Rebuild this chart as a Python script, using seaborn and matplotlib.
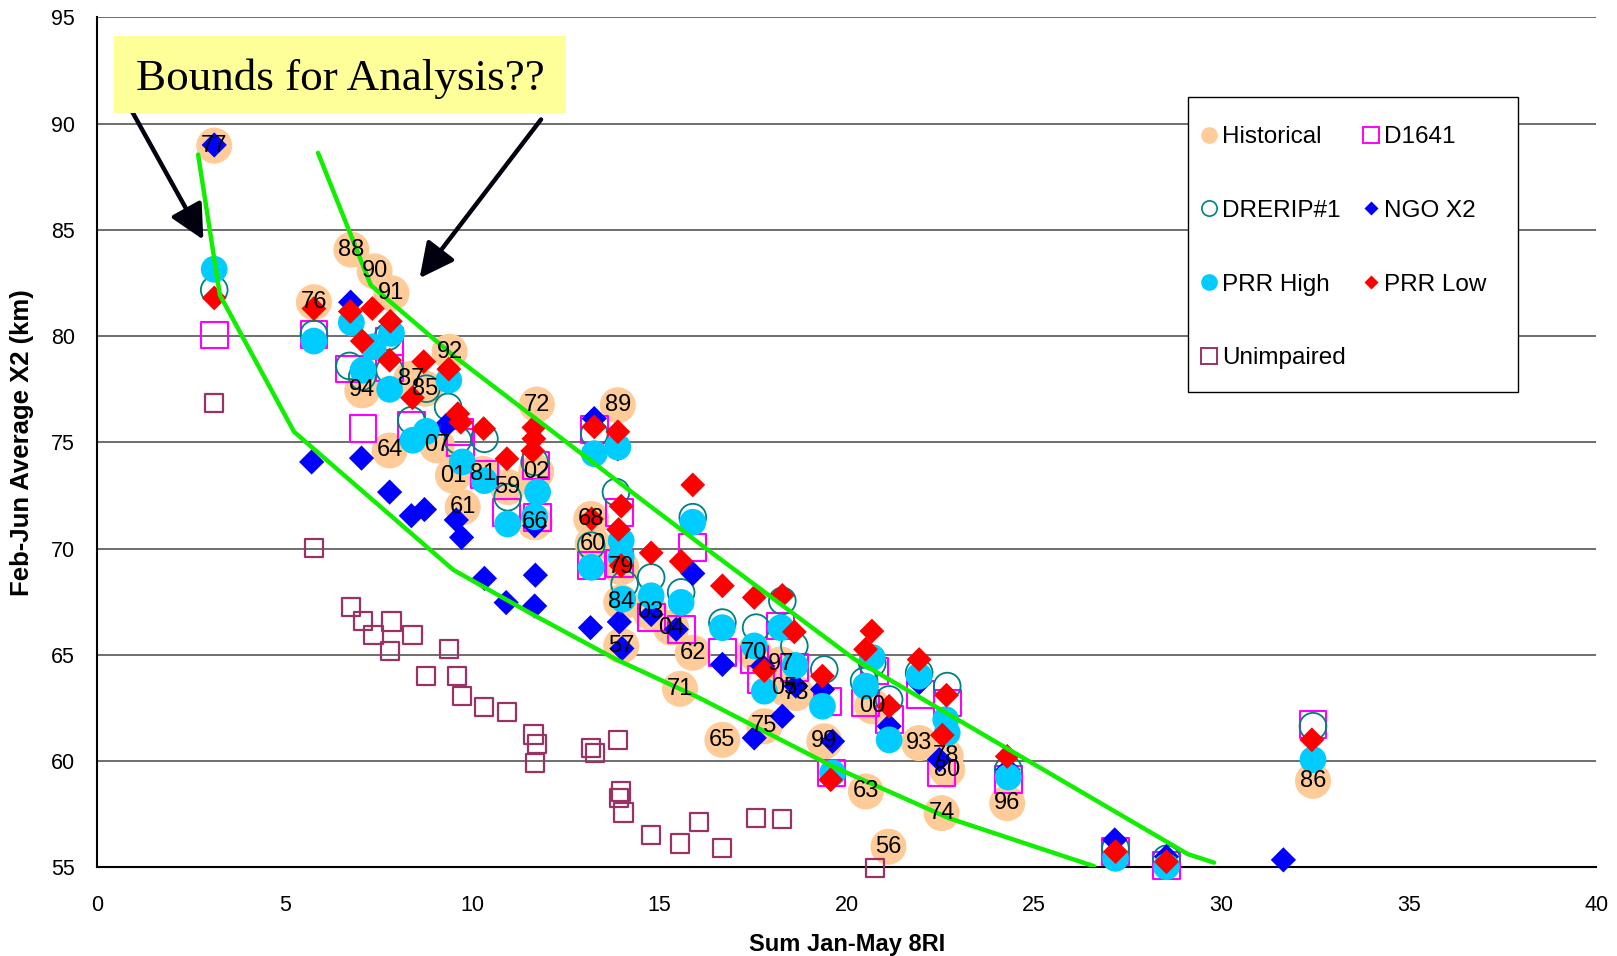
import numpy as np
import pandas as pd
import matplotlib
matplotlib.use("Agg")
import matplotlib.pyplot as plt
from matplotlib.lines import Line2D
from matplotlib.patches import Rectangle
import seaborn as sns

# ---------------- data ----------------
hist_years = ["77", "76", "88", "90", "91", "94", "87", "85", "92", "64", "07", "01", "81", "61",
              "59", "72", "02", "66", "89", "68", "60", "79", "84", "03", "04", "57", "62", "71",
              "65", "70", "97", "75", "05", "73", "99", "63", "00", "56", "93", "78", "80", "74",
              "96", "86"]
hist_x = [3.12, 5.78, 6.78, 7.40, 7.85, 7.07, 8.38, 8.76, 9.40, 7.80, 9.06, 9.49, 10.29, 9.75,
          10.95, 11.73, 11.71, 11.67, 13.89, 13.18, 13.22, 13.98, 13.98, 14.76, 15.31, 13.98, 15.89, 15.55,
          16.68, 17.53, 18.24, 17.80, 18.33, 18.64, 19.40, 20.51, 20.68, 21.11, 21.93, 22.64, 22.68, 22.53,
          24.28, 32.44]
hist_y = [88.97, 81.6, 84.07, 83.05, 82.02, 77.45, 78.0, 77.53, 79.27, 74.62, 74.86, 73.44, 73.52, 71.95,
          72.9, 76.78, 73.6, 71.24, 76.75, 71.4, 70.22, 69.12, 67.47, 67.0, 66.28, 65.42, 65.1, 63.4,
          61.0, 65.1, 64.55, 61.64, 63.45, 63.2, 60.93, 58.57, 62.58, 55.97, 60.85, 60.22, 59.6, 57.55,
          58.02, 59.07]

d1641_x = [3.12, 5.78, 6.73, 7.80, 7.80, 7.09, 8.38, 9.67, 9.70, 11.71, 11.75, 10.91, 10.33, 13.18,
           13.93, 13.26, 13.93, 14.78, 15.58, 15.89, 16.68, 17.53, 18.24, 18.60, 17.71, 19.48, 19.60,
           20.50, 21.13, 20.73, 21.97, 22.68, 22.53, 24.31, 27.17, 28.53, 32.44]
d1641_y = [80.05, 80.08, 78.45, 78.5, 79.74, 75.65, 75.8, 75.49, 75.0, 73.9, 71.48, 71.71, 73.5, 69.2,
           71.71, 75.6, 69.3, 66.76, 66.2, 70.06, 65.1, 64.79, 66.36, 64.4, 63.84, 62.82, 59.44,
           62.74, 61.95, 64.24, 63.13, 62.74, 59.44, 59.12, 55.74, 55.1, 61.72]

drerip_x = [3.12, 5.78, 6.73, 7.76, 7.80, 7.07, 8.78, 9.36, 8.38, 9.62, 10.33, 10.95, 11.67, 13.84,
            13.26, 13.18, 14.07, 14.78, 15.58, 15.89, 16.68, 17.58, 18.28, 18.60, 19.40, 20.46, 20.68,
            21.13, 21.93, 22.68, 24.31, 27.17, 28.53, 32.44]
drerip_y = [82.18, 80.1, 78.6, 79.98, 78.4, 78.1, 77.53, 76.67, 76.04, 75.1, 75.17, 72.42, 74.08, 72.66,
            75.4, 70.14, 68.33, 68.64, 67.94, 71.48, 66.52, 66.28, 67.54, 65.42, 64.31, 63.76, 64.6,
            62.9, 64.16, 63.53, 59.6, 55.9, 55.4, 61.64]

ngo_x = [3.12, 5.72, 6.76, 7.05, 7.80, 8.38, 8.73, 9.31, 9.58, 9.72, 10.33, 10.91, 11.67, 11.69,
         11.67, 13.26, 13.89, 13.16, 13.93, 14.00, 15.89, 15.45, 14.78, 16.68, 17.53, 18.28, 17.75,
         18.64, 19.35, 19.62, 21.13, 21.93, 22.47, 24.30, 27.15, 28.53, 31.65]
ngo_y = [89.0, 74.08, 81.6, 74.26, 72.66, 71.55, 71.84, 75.8, 71.35, 70.53, 68.6, 67.46, 67.3, 68.75,
         71.08, 76.12, 74.7, 66.28, 66.55, 65.3, 68.83, 66.2, 66.9, 64.55, 61.09, 62.11, 64.47,
         63.53, 63.37, 60.93, 61.64, 63.69, 60.07, 59.6, 56.29, 55.5, 55.35]

prrh_x = [3.12, 5.78, 6.78, 7.85, 7.09, 7.36, 7.80, 9.38, 8.42, 8.78, 9.74, 10.33, 10.95, 11.75,
          11.67, 13.26, 13.89, 13.18, 13.98, 13.98, 14.02, 14.78, 15.58, 15.89, 16.68, 17.53, 18.24,
          18.62, 17.80, 19.35, 20.50, 20.68, 21.13, 19.62, 21.93, 22.64, 22.68, 24.31, 27.17, 28.53,
          32.44]
prrh_y = [83.15, 79.77, 80.64, 80.13, 78.4, 79.5, 77.5, 77.93, 75.1, 75.52, 74.08, 73.2, 71.16, 72.66,
          71.5, 74.47, 74.78, 69.12, 70.37, 69.6, 67.62, 67.78, 67.47, 71.24, 66.28, 65.42, 66.28,
          64.5, 63.29, 62.58, 63.53, 64.87, 61.0, 59.44, 64.0, 61.95, 61.33, 59.25, 55.42, 55.03,
          60.07]

prrl_x = [3.12, 5.78, 6.75, 7.34, 7.82, 7.07, 7.80, 8.71, 9.38, 8.41, 9.62, 9.70, 10.31, 11.65,
          11.65, 11.62, 10.93, 13.26, 13.89, 13.19, 13.98, 13.91, 13.98, 14.78, 15.58, 15.89, 16.68,
          17.53, 18.28, 18.60, 17.80, 19.35, 20.67, 20.50, 21.93, 22.66, 22.55, 21.13, 19.57, 24.28,
          27.17, 28.53, 32.41]
prrl_y = [81.8, 81.3, 81.16, 81.3, 80.7, 79.77, 78.87, 78.8, 78.45, 77.1, 76.35, 75.95, 75.65, 75.7,
          75.17, 74.6, 74.23, 75.73, 75.5, 71.4, 72.0, 70.9, 69.2, 69.8, 69.4, 73.0, 68.25,
          67.7, 67.8, 66.08, 64.26, 64.0, 66.12, 65.26, 64.78, 63.1, 61.22, 62.58, 59.12, 60.22,
          55.74, 55.26, 61.0]

unimp_x = [3.12, 5.79, 6.78, 7.09, 7.37, 7.85, 7.80, 8.41, 8.76, 9.38, 9.60, 9.74, 10.33, 10.93,
           11.64, 11.73, 11.67, 13.18, 13.28, 13.89, 13.98, 13.93, 14.04, 14.78, 15.55, 16.06, 16.68,
           17.57, 18.27, 20.75]
unimp_y = [76.86, 70.03, 67.26, 66.6, 65.94, 66.57, 65.18, 65.94, 64.0, 65.26, 64.0, 63.05, 62.55, 62.3,
           61.25, 60.8, 59.9, 60.6, 60.4, 60.98, 58.57, 58.26, 57.58, 56.51, 56.12, 57.15, 55.9,
           57.31, 57.27, 54.95]

# bounds (green lines)
lower_x = [2.69, 3.27, 5.25, 9.50, 11.62, 13.84, 16.06, 19.62, 22.73, 26.60]
lower_y = [88.55, 81.94, 75.50, 69.00, 66.90, 64.79, 62.98, 59.75, 57.31, 55.05]
upper_x = [5.89, 7.30, 9.49, 14.73, 16.10, 20.20, 29.10, 29.80]
upper_y = [88.63, 82.40, 79.10, 72.03, 70.20, 64.80, 55.62, 55.22]

# arrows (start, tip)
arrow1 = ((0.92, 90.6), (2.83, 84.54))
arrow2 = ((11.84, 90.2), (8.60, 82.73))

x_ticks = [0, 5, 10, 15, 20, 25, 30, 35, 40]
y_ticks = [55, 60, 65, 70, 75, 80, 85, 90, 95]

# ---------------- styling ----------------
sns.set_style("white")
plt.rcParams["font.family"] = ["Liberation Sans", "DejaVu Sans"]
plt.rcParams["text.color"] = "black"
plt.rcParams["axes.labelcolor"] = "black"
plt.rcParams["xtick.color"] = "black"
plt.rcParams["ytick.color"] = "black"

W, H = 1617, 956
fig = plt.figure(figsize=(W / 100, H / 100), dpi=100)
ax = fig.add_axes([97.3 / W, 1 - 867.3 / H, (1596.3 - 97.3) / W, (867.3 - 17.5) / H])

C_HIST = "#FFCC99"
C_D1641 = "#FF00FF"
C_DRERIP = "#008080"
C_NGO = "#0000FF"
C_PRRH = "#00CCFF"
C_PRRL = "#FF0000"
C_UNIMP = "#993366"

sns.scatterplot(x=hist_x, y=hist_y, ax=ax, s=672, marker="o", color=C_HIST, edgecolor="none",
                linewidth=0, zorder=3, clip_on=False, legend=False)
sns.scatterplot(x=d1641_x, y=d1641_y, ax=ax, s=370, marker="s", facecolor="none", edgecolor=C_D1641,
                linewidth=1.5, zorder=4, clip_on=False, legend=False)
sns.scatterplot(x=drerip_x, y=drerip_y, ax=ax, s=370, marker="o", facecolor="none", edgecolor=C_DRERIP,
                linewidth=1.3, zorder=5, clip_on=False, legend=False)
sns.scatterplot(x=ngo_x, y=ngo_y, ax=ax, s=165, marker="D", color=C_NGO, edgecolor="none",
                linewidth=0, zorder=6, clip_on=False, legend=False)
sns.scatterplot(x=prrh_x, y=prrh_y, ax=ax, s=370, marker="o", color=C_PRRH, edgecolor="none",
                linewidth=0, zorder=7, clip_on=False, legend=False)
sns.scatterplot(x=prrl_x, y=prrl_y, ax=ax, s=160, marker="D", color=C_PRRL, edgecolor="none",
                linewidth=0, zorder=8, clip_on=False, legend=False)
sns.scatterplot(x=unimp_x, y=unimp_y, ax=ax, s=170, marker="s", facecolor="none", edgecolor=C_UNIMP,
                linewidth=1.6, zorder=9, clip_on=False, legend=False)

# year labels
for xv, yv, lab in zip(hist_x, hist_y, hist_years):
    ax.text(xv, yv, lab, ha="center", va="center", fontsize=17, color="black", zorder=12)

# green bounds
sns.lineplot(x=lower_x, y=lower_y, ax=ax, sort=False, estimator=None, color="#11EE00", lw=3.2, zorder=10)
sns.lineplot(x=upper_x, y=upper_y, ax=ax, sort=False, estimator=None, color="#11EE00", lw=3.2, zorder=10)

# arrows
for (s0, tip) in (arrow1, arrow2):
    ax.annotate("", xy=tip, xytext=s0,
                arrowprops=dict(arrowstyle="-|>,head_length=1.4,head_width=0.7", lw=3.2,
                                color="#00000F", mutation_scale=15, shrinkA=0, shrinkB=0),
                zorder=11, annotation_clip=False)

# axes
ax.set_xlim(0, 40)
ax.set_ylim(55, 95)
ax.set_xticks(x_ticks)
ax.set_yticks(y_ticks)
ax.set_xticklabels([str(t) for t in x_ticks])
ax.set_yticklabels([str(t) for t in y_ticks])
ax.tick_params(axis="x", direction="out", length=6, width=1, color="#808080", pad=14, labelsize=15.5,
               labelcolor="black")
ax.tick_params(axis="y", direction="out", length=6, width=1, color="#808080", pad=10, labelsize=15.5,
               labelcolor="black")
ax.yaxis.grid(True, color="#555555", lw=1.2)
ax.xaxis.grid(False)
ax.set_axisbelow(True)
for sp in ("top", "right"):
    ax.spines[sp].set_visible(False)
for sp in ("left", "bottom"):
    ax.spines[sp].set_color("black")
    ax.spines[sp].set_linewidth(1.5)
ax.set_xlabel("Sum Jan-May 8RI", fontsize=17, fontweight="bold", labelpad=12, color="black")
ax.set_ylabel("Feb-Jun Average X2 (km)", fontsize=18.5, fontweight="bold", labelpad=12, color="black")

# title box
fig.patches.append(Rectangle((114 / W, 1 - 112.7 / H), (566 - 114) / W, (112.7 - 36) / H,
                             transform=fig.transFigure, facecolor="#FFFF99", edgecolor="none", zorder=20))
fig.text(340 / W, 1 - 90 / H, "Bounds for Analysis??", ha="center", va="baseline",
         fontsize=32.5, family="Liberation Serif", color="black", zorder=21)

# legend frame
fig.patches.append(Rectangle((1188 / W, 1 - 392 / H), (1518 - 1188) / W, (392 - 97) / H,
                             transform=fig.transFigure, facecolor="white", edgecolor="black",
                             linewidth=1.0, zorder=20))
handles = [
    Line2D([], [], ls="none", marker="o", ms=12, mfc=C_HIST, mec="none"),
    Line2D([], [], ls="none", marker="o", ms=11, mfc="none", mec=C_DRERIP, mew=1.2),
    Line2D([], [], ls="none", marker="o", ms=12, mfc=C_PRRH, mec="none"),
    Line2D([], [], ls="none", marker="s", ms=11, mfc="none", mec=C_UNIMP, mew=1.4),
    Line2D([], [], ls="none", marker="s", ms=11, mfc="none", mec=C_D1641, mew=1.4),
    Line2D([], [], ls="none", marker="D", ms=7.5, mfc=C_NGO, mec="none"),
    Line2D([], [], ls="none", marker="D", ms=7.5, mfc=C_PRRL, mec="none"),
]
labels = ["Historical", "DRERIP#1", "PRR High", "Unimpaired", "D1641", "NGO X2", "PRR Low"]
leg = fig.legend(handles, labels, ncol=2, loc="upper left",
                 bbox_to_anchor=(1200 / W, 1 - 126 / H), bbox_transform=fig.transFigure,
                 fontsize=17.5, frameon=False,
                 handlelength=0.7, handletextpad=0.2, labelspacing=2.13, columnspacing=0.68,
                 borderpad=0, borderaxespad=0)
leg.set_zorder(22)

fig.savefig("out.png", dpi=100)
